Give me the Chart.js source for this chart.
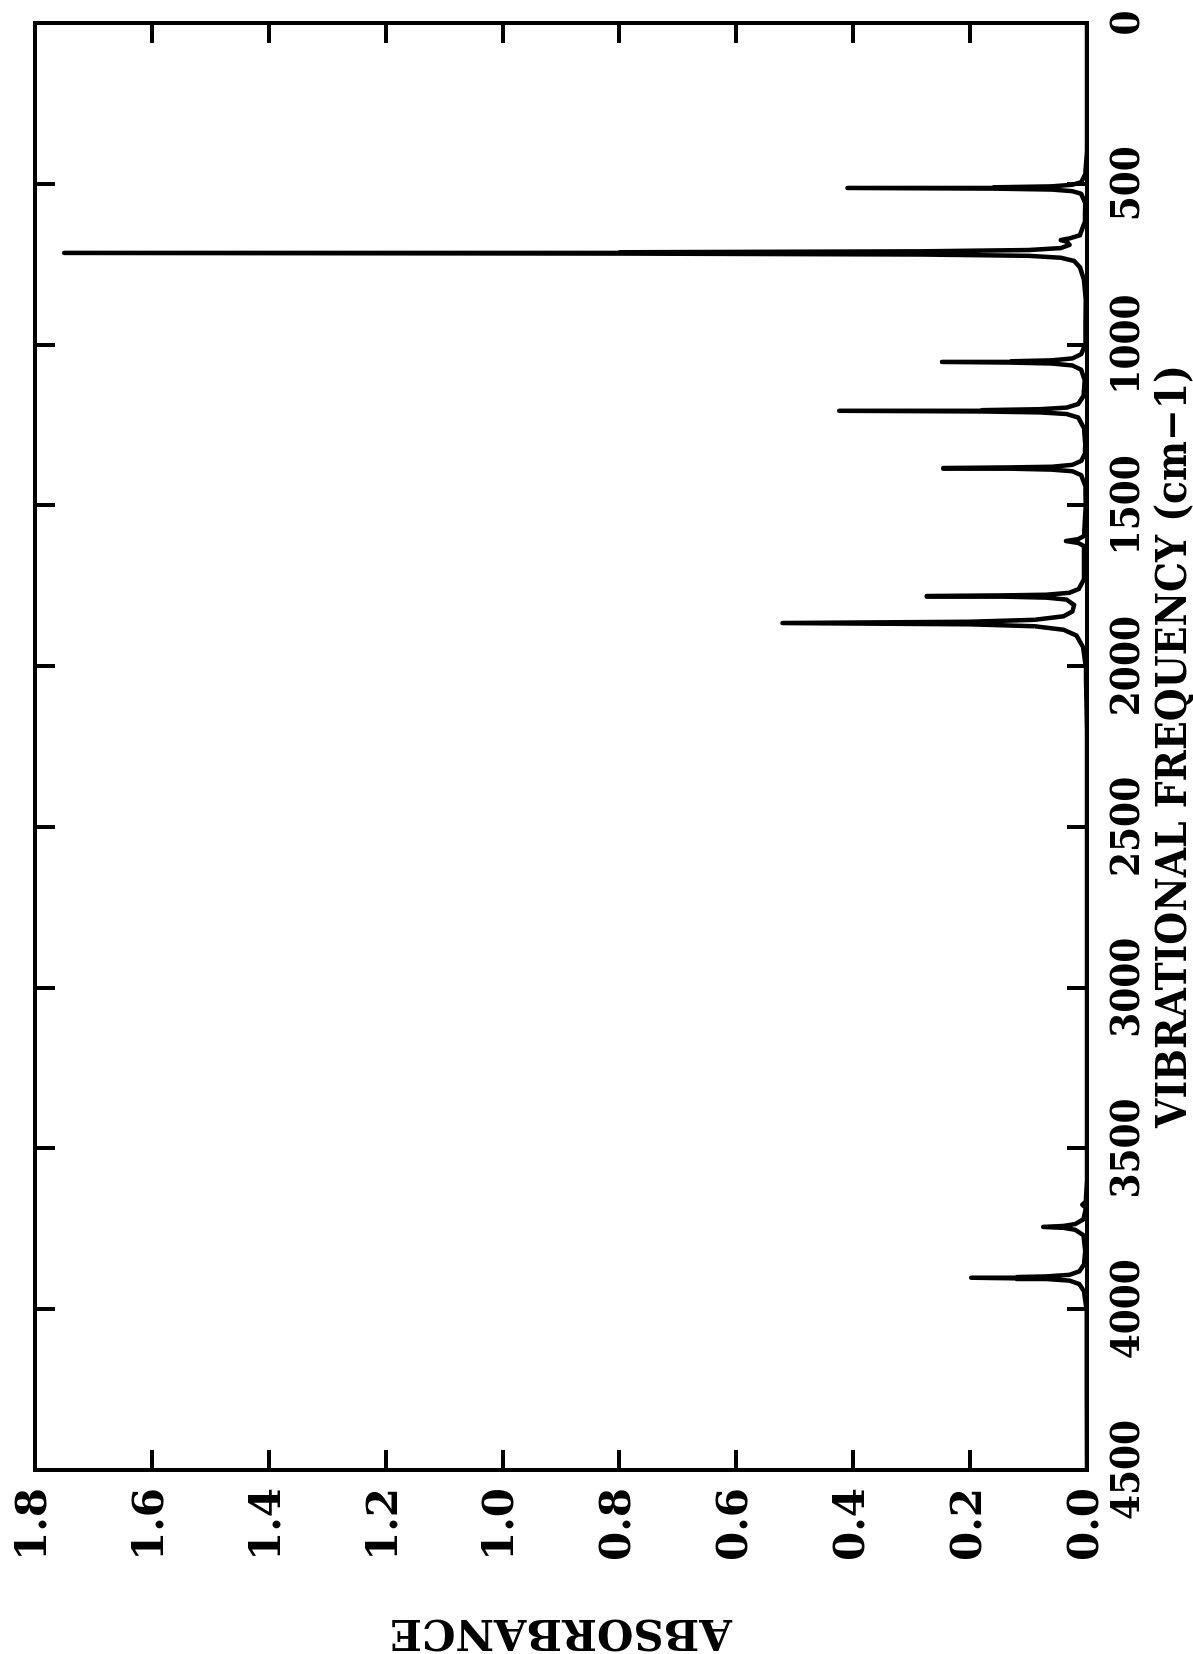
<!DOCTYPE html>
<html>
<head>
<meta charset="utf-8">
<script src="https://cdn.jsdelivr.net/npm/chart.js@4/dist/chart.umd.min.js"></script>
<style>
  html, body { margin: 0; padding: 0; overflow: hidden; background: #fff; width: 1193px; height: 1654px; }
  #wrap { position: absolute; left: 0; top: 0; width: 1680px; height: 1210px;
          transform-origin: 0 0; transform: translate(0, 1680px) rotate(-90deg); }
</style>
</head>
<body>
<div id="wrap"><canvas id="c" width="1680" height="1210"></canvas></div>
<script>
// Frequency ticks (cm-1) and absorbance ticks
const FREQ_TICKS = [0, 500, 1000, 1500, 2000, 2500, 3000, 3500, 4000, 4500];
const ABS_TICKS = [0.0, 0.2, 0.4, 0.6, 0.8, 1.0, 1.2, 1.4, 1.6, 1.8];

// Spectrum: frequency (cm-1) and absorbance
const SPEC_FREQ = [
  0, 400,
  470, 495, 503, 508, 511, 513, 515, 518, 523, 531, 560,
  620,
  660, 670, 675, 680, 690, 700, 706, 710, 713, 715, 717, 720, 724, 730, 740, 760, 800, 860,
  1000, 1030, 1043, 1049, 1052, 1054, 1056, 1059, 1065, 1078, 1110,
  1160, 1185, 1196, 1201, 1204, 1206, 1208, 1211, 1216, 1227, 1260, 1310,
  1340, 1362, 1374, 1380, 1382, 1384, 1386, 1389, 1394, 1406, 1440,
  1500,
  1595, 1605, 1611, 1617, 1627,
  1730, 1760, 1772, 1778, 1780, 1782, 1784, 1787, 1793, 1810, 1830, 1845, 1856, 1862, 1866, 1870, 1876, 1887, 1905, 1940, 2000, 2200,
  3600, 3665, 3675, 3685,
  3720, 3735, 3741, 3744, 3747, 3753, 3770, 3820,
  3860, 3882, 3893, 3898, 3900, 3902, 3904, 3906, 3911, 3922, 3945, 4000, 4500
];
const SPEC_ABS = [
  0.0, 0.0,
  0.003, 0.01, 0.025, 0.06, 0.16, 0.41, 0.16, 0.06, 0.025, 0.01, 0.003,
  0.004,
  0.012, 0.03, 0.045, 0.035, 0.03, 0.045, 0.1, 0.28, 0.8, 1.75, 0.8, 0.28, 0.1, 0.045, 0.022, 0.012, 0.005, 0.002,
  0.003, 0.01, 0.025, 0.06, 0.13, 0.248, 0.13, 0.06, 0.025, 0.01, 0.004,
  0.006, 0.015, 0.035, 0.08, 0.18, 0.424, 0.18, 0.08, 0.035, 0.015, 0.005, 0.003,
  0.004, 0.01, 0.025, 0.06, 0.13, 0.246, 0.13, 0.06, 0.025, 0.01, 0.003,
  0.002,
  0.005, 0.015, 0.036, 0.015, 0.005,
  0.005, 0.014, 0.03, 0.07, 0.14, 0.274, 0.14, 0.07, 0.035, 0.022, 0.025, 0.04, 0.09, 0.2, 0.521, 0.2, 0.09, 0.04, 0.018, 0.007, 0.002, 0.0,
  0.0, 0.002, 0.008, 0.002,
  0.006, 0.02, 0.04, 0.075, 0.04, 0.02, 0.006, 0.003,
  0.005, 0.013, 0.03, 0.07, 0.12, 0.198, 0.12, 0.07, 0.03, 0.013, 0.005, 0.001, 0.0
];

const X_TITLE = 'VIBRATIONAL FREQUENCY (cm\u22121)';
const Y_TITLE = 'ABSORBANCE';

const points = SPEC_FREQ.map((f, i) => ({ x: f, y: SPEC_ABS[i] }));

const serifB = "'DejaVu Serif', 'Liberation Serif', serif";
const serifC = "'DejaVu Serif Condensed', 'DejaVu Serif', serif";

const freqTicks = axis => { axis.ticks = FREQ_TICKS.map(v => ({ value: v })); };
const absTicks = axis => { axis.ticks = ABS_TICKS.map(v => ({ value: v })); };

const gridOpts = { drawOnChartArea: false, drawTicks: true, tickLength: -20, color: '#000', lineWidth: 4 };
const borderOpts = { display: true, color: '#000', width: 4 };

new Chart(document.getElementById('c'), {
  type: 'line',
  data: {
    datasets: [{
      data: points,
      borderColor: '#000',
      borderWidth: 4.5,
      pointRadius: 0,
      tension: 0,
      borderJoinStyle: 'round',
      borderCapStyle: 'round',
      fill: false
    }]
  },
  options: {
    responsive: false,
    animation: false,
    devicePixelRatio: 1,
    layout: { padding: { left: 19, right: 23, top: 35, bottom: 14 } },
    plugins: { legend: { display: false }, tooltip: { enabled: false } },
    scales: {
      x: {
        type: 'linear', position: 'bottom', reverse: true, min: 0, max: 4500,
        afterBuildTicks: freqTicks,
        afterFit: a => { a.height = 109; a.paddingLeft = 10; a.paddingRight = 10; },
        grid: gridOpts, border: borderOpts,
        ticks: { color: '#000', padding: 42, maxRotation: 0, autoSkip: false,
                 callback: v => String(v),
                 font: { family: serifC, weight: 'bold', size: 40, lineHeight: 1 } },
        title: { display: true, text: X_TITLE, color: '#000', padding: { top: 0, bottom: 0 },
                 font: { family: serifC, weight: 'bold', size: 42, lineHeight: 1 } }
      },
      x2: {
        type: 'linear', position: 'top', reverse: true, min: 0, max: 4500,
        afterBuildTicks: freqTicks,
        afterFit: a => { a.height = 0; },
        grid: gridOpts, border: borderOpts,
        ticks: { display: false }
      },
      y: {
        type: 'linear', position: 'left', min: 0, max: 1.8,
        afterBuildTicks: absTicks,
        afterFit: a => { a.width = 191; a.paddingTop = 10; a.paddingBottom = 10; },
        grid: gridOpts, border: borderOpts,
        ticks: { color: '#000', padding: 38, autoSkip: false,
                 callback: v => Number(v).toFixed(1),
                 font: { family: serifB, weight: 'bold', size: 42, lineHeight: 1 } },
        title: { display: true, text: Y_TITLE, color: '#000', padding: { top: 9, bottom: 0 },
                 font: { family: serifB, weight: 'bold', size: 42, lineHeight: 1 } }
      },
      y2: {
        type: 'linear', position: 'right', min: 0, max: 1.8,
        afterBuildTicks: absTicks,
        afterFit: a => { a.width = 0; },
        grid: gridOpts, border: borderOpts,
        ticks: { display: false }
      }
    }
  }
});
</script>
</body>
</html>
